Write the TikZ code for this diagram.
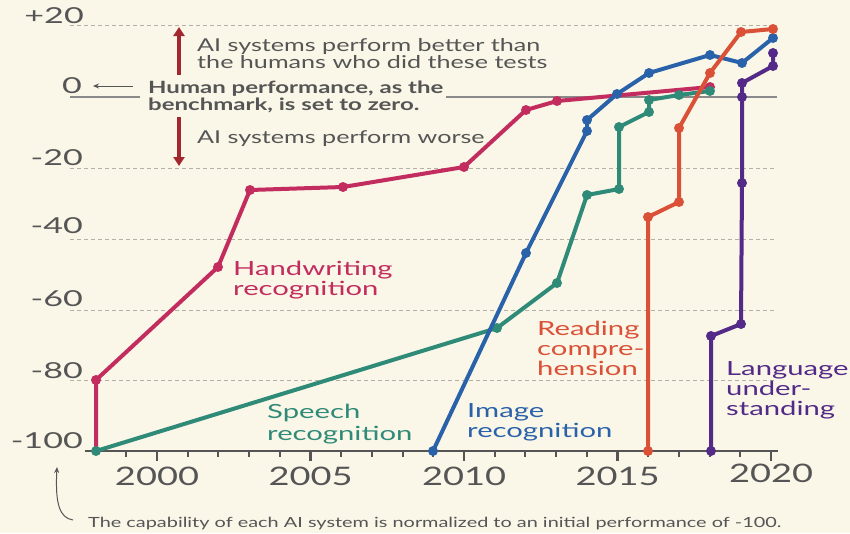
\documentclass[tikz,border=0pt]{standalone}
\usepackage{fontspec}
\setmainfont{Lato}[FakeStretch=1.42]
\newfontfamily\labfont{Lato}[FakeStretch=1.5]
\newfontfamily\yfont{Lato}[FakeStretch=1.55]
\usetikzlibrary{arrows.meta}
\definecolor{bgc}{HTML}{FAF7E8}
\definecolor{txt}{HTML}{555555}
\definecolor{gridc}{HTML}{B3B0A8}
\definecolor{zeroc}{HTML}{8A8A8A}
\definecolor{axisc}{HTML}{555555}
\definecolor{pinkc}{HTML}{C22C5E}
\definecolor{tealc}{HTML}{2F8A78}
\definecolor{bluec}{HTML}{2A62AA}
\definecolor{orangec}{HTML}{DA5138}
\definecolor{purplec}{HTML}{532A87}
\definecolor{darkredc}{HTML}{A3272E}
\begin{document}
\begin{tikzpicture}[x=1pt,y=-1pt,
  gridline/.style={draw=gridc, line width=1pt, dash pattern=on 3.5pt off 3.5pt},
  ylab/.style={anchor=base east, inner sep=0pt, text=txt, font=\yfont\fontsize{22}{23}\selectfont},
  xlab/.style={anchor=base, inner sep=0pt, text=txt, font=\fontsize{25.5}{26}\selectfont},
  note/.style={anchor=base west, inner sep=0pt, text=txt, font=\fontsize{17.7}{18}\selectfont},
  boldnote/.style={note, font=\fontsize{16.9}{18}\selectfont\bfseries},
  lab/.style={anchor=base west, inner sep=0pt, font=\labfont\fontsize{19.5}{20}\selectfont},
  series/.style={line width=4pt, line join=round, line cap=round},
  bigarrow/.style={draw=darkredc, line width=3.5pt, -{Triangle[length=9pt,width=11pt]}},
  smallarrow/.style={draw=txt, line width=1pt, -{Stealth[length=6pt,width=5pt]}}
]
\useasboundingbox[fill=bgc] (0,0) rectangle (850,533);

% grid lines
\draw[gridline] (70,25) -- (777,25);
\draw[gridline] (70,168) -- (777,168);
\draw[gridline] (70,239) -- (777,239);
\draw[gridline] (70,310) -- (777,310);
\draw[gridline] (70,380) -- (777,380);
\draw[draw=zeroc, line width=1.5pt] (70,97) -- (140,97);
\draw[draw=zeroc, line width=1.5pt] (446,97) -- (777,97);

% y labels
\node[ylab] (yp20) at (84,23) {+20};
\node[ylab] (y0) at (82,93) {0};
\node[ylab] (ym20) at (83,165) {-20};
\node[ylab] (ym40) at (83,233) {-40};
\node[ylab] (ym60) at (83,306) {-60};
\node[ylab] (ym80) at (83,378) {-80};
\node[ylab] (ym100) at (83,448) {-100};

% x axis
\draw[draw=axisc, line width=2pt] (85,451) -- (778,451);
\foreach \yr in {1999,2001,2002,2003,2004,2006,2007,2008,2009,2011,2012,2013,2014,2016,2017,2018,2019}
  \draw[draw=axisc, line width=2pt] ({157+30.7*(\yr-2000)},451) -- ++(0,6);
\foreach \yr in {2000,2005,2010,2015,2020}
  \draw[draw=axisc, line width=2.5pt] ({157+30.7*(\yr-2000)},451) -- ++(0,10);
\node[xlab] (x2000) at (157,485) {2000};
\node[xlab] (x2005) at (310.5,485) {2005};
\node[xlab] (x2010) at (464,485) {2010};
\node[xlab] (x2015) at (617.5,485) {2015};
\node[xlab] (x2020) at (771,482) {2020};

% annotations
\node[note] (better1) at (197,51) {AI systems perform better than};
\node[note] (better2) at (197,68) {the humans who did these tests};
\node[boldnote] (human1) at (148,93) {Human performance, as the};
\node[boldnote] (human2) at (148,110) {benchmark, is set to zero.};
\node[note] (worse) at (197,143) {AI systems perform worse};
\coordinate (upS) at (179,75);
\coordinate (upE) at (179,27);
\coordinate (dnS) at (179,117);
\coordinate (dnE) at (179,166);
\draw[bigarrow] (upS) -- (upE);
\draw[bigarrow] (dnS) -- (dnE);
\coordinate (zeroArrowS) at (133,86);
\coordinate (zeroArrowE) at (93,86);
\draw[smallarrow] (zeroArrowS) -- (zeroArrowE);

% footnote
\node[anchor=base west, inner sep=0pt, text=txt, font=\fontsize{14}{15}\selectfont] (foot) at (88,527)
  {The capability of each AI system is normalized to an initial performance of -100.};
\coordinate (curlS) at (73,520);
\coordinate (curlE) at (57,467);
\draw[smallarrow] (curlS) .. controls (60,518) and (55,505) .. (curlE);

% handwriting
\coordinate (h1) at (96,451);
\coordinate (h2) at (96,380);
\coordinate (h3) at (218,267);
\coordinate (h4) at (250,190);
\coordinate (h5) at (343,187);
\coordinate (h6) at (464,167);
\coordinate (h7) at (526,110);
\coordinate (h8) at (557,101);
\coordinate (h9) at (710,87);
\draw[series, draw=pinkc] (h1) -- (h2) -- (h3) -- (h4) -- (h5) -- (h6) -- (h7) -- (h8) -- (h9);
\foreach \p in {h2,h3,h4,h5,h6,h7,h8,h9} \fill[pinkc] (\p) circle (5pt);

% speech
\coordinate (s1) at (96,451);
\coordinate (s2) at (497,328);
\coordinate (s3) at (557,283);
\coordinate (s4) at (587,195);
\coordinate (s5) at (619,189);
\coordinate (s6) at (619,127);
\coordinate (s7) at (649,112);
\coordinate (s8) at (649,100);
\coordinate (s9) at (679,95);
\coordinate (s10) at (710,91);
\draw[series, draw=tealc] (s1) -- (s2) -- (s3) -- (s4) -- (s5) -- (s6) -- (s7) -- (s8) -- (s9) -- (s10);
\foreach \p in {s1,s2,s3,s4,s5,s6,s7,s8,s9,s10} \fill[tealc] (\p) circle (5pt);

% image
\coordinate (i1) at (433,451);
\coordinate (i2) at (526,253);
\coordinate (i3) at (587,131);
\coordinate (i4) at (587,120);
\coordinate (i5) at (617,94);
\coordinate (i6) at (649,73);
\coordinate (i7) at (710,55);
\coordinate (i8) at (742,63);
\coordinate (i9) at (773,38);
\draw[series, draw=bluec] (i1) -- (i2) -- (i3) -- (i4) -- (i5) -- (i6) -- (i7) -- (i8) -- (i9);
\foreach \p in {i1,i2,i3,i4,i5,i6,i7,i8,i9} \fill[bluec] (\p) circle (5pt);

% reading
\coordinate (r1) at (648,451);
\coordinate (r2) at (648,217);
\coordinate (r3) at (679,202);
\coordinate (r4) at (679,128);
\coordinate (r5) at (710,73);
\coordinate (r6) at (741,32);
\coordinate (r7) at (773,29);
\draw[series, draw=orangec] (r1) -- (r2) -- (r3) -- (r4) -- (r5) -- (r6) -- (r7);
\foreach \p in {r1,r2,r3,r4,r5,r6,r7} \fill[orangec] (\p) circle (5pt);

% language
\coordinate (l1) at (711,451);
\coordinate (l2) at (711,336);
\coordinate (l3) at (741,324);
\coordinate (l4) at (742,183);
\coordinate (l5) at (742,97);
\coordinate (l6) at (742,83);
\coordinate (l7) at (773,66);
\coordinate (l8) at (773,53);
\draw[series, draw=purplec] (l1) -- (l2) -- (l3) -- (l4) -- (l5) -- (l6) -- (l7) -- (l8);
\foreach \p in {l1,l2,l3,l4,l5,l6,l7,l8} \fill[purplec] (\p) circle (5pt);

% series labels
\node[lab, text=pinkc] (hwA) at (233,275) {Handwriting};
\node[lab, text=pinkc] (hwB) at (233,295) {recognition};
\node[lab, text=tealc] (spA) at (267,418) {Speech};
\node[lab, text=tealc] (spB) at (267,440) {recognition};
\node[lab, text=bluec] (imA) at (467,417) {Image};
\node[lab, text=bluec] (imB) at (467,437) {recognition};
\node[lab, text=orangec] (rdA) at (537,335) {Reading};
\node[lab, text=orangec] (rdB) at (537,355) {compre-};
\node[lab, text=orangec] (rdC) at (537,375) {hension};
\node[lab, text=purplec] (lgA) at (726,375) {Language};
\node[lab, text=purplec] (lgB) at (726,395) {under-};
\node[lab, text=purplec] (lgC) at (726,415) {standing};
\end{tikzpicture}
\end{document}
